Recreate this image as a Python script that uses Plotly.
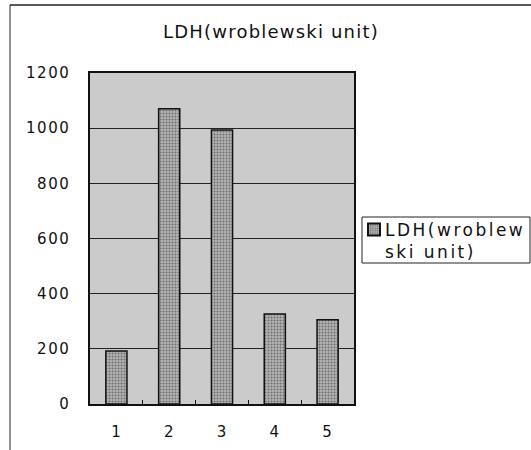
import plotly.graph_objects as go

categories = ["1", "2", "3", "4", "5"]
values = [192, 1070, 993, 326, 305]
series_name = "LDH(wroblew<br>ski unit)"
title_text = "LDH(wroblewski unit)"
y_ticks = [0, 200, 400, 600, 800, 1000, 1200]

W, H = 531, 450
L, R, T, B = 90, 177, 73, 46
pw, ph = W - L - R, H - T - B

def px_x(p):
    return (p - L) / pw

def px_y(p):
    return (H - B - p) / ph

fig = go.Figure()
fig.add_trace(go.Bar(
    x=categories, y=values, name=series_name,
    marker=dict(color="#a8a8a8", line=dict(color="#111111", width=1.5),
                pattern=dict(shape=".", fgcolor="#6e6e6e", bgcolor="#b4b4b4",
                             size=3, solidity=0.35, fillmode="replace")),
    width=0.4, showlegend=True,
))

font = "DejaVu Sans"
fig.update_layout(
    width=W, height=H,
    margin=dict(l=L, r=R, t=T, b=B, pad=0, autoexpand=False),
    paper_bgcolor="white",
    plot_bgcolor="#cbcbcb",
    font=dict(family=font, size=15, color="#111111"),
    title=dict(text=title_text, x=271 / W, xanchor="center",
               y=1 - 32 / H, yanchor="middle",
               font=dict(family=font, size=18, color="#111111")),
    xaxis=dict(type="category", showgrid=False, showline=True, linecolor="#111111",
               linewidth=1.5, mirror=True, ticks="inside", ticklen=4,
               tickcolor="#111111", tickson="boundaries", automargin=False,
               ticklabelstandoff=13, tickfont=dict(size=15)),
    yaxis=dict(range=[0, 1200], tickvals=y_ticks, showgrid=True,
               gridcolor="#222222", gridwidth=1, showline=True,
               linecolor="#111111", linewidth=1.5, mirror=True, automargin=False,
               ticks="", ticklabelstandoff=15, zeroline=False,
               tickfont=dict(size=15)),
    legend=dict(x=px_x(354), y=px_y(212), xanchor="left", yanchor="top",
                borderwidth=0, bgcolor="rgba(0,0,0,0)", valign="top",
                font=dict(family=font, size=17), itemsizing="constant",
                itemwidth=30),
    bargap=0.6,
    shapes=[
        dict(type="line", xref="paper", yref="paper",
             x0=px_x(10), x1=px_x(10), y0=px_y(5), y1=px_y(H),
             line=dict(color="#222222", width=1)),
        dict(type="line", xref="paper", yref="paper",
             x0=px_x(10), x1=px_x(W), y0=px_y(5), y1=px_y(5),
             line=dict(color="#222222", width=1.5)),
        dict(type="rect", xref="paper", yref="paper",
             x0=px_x(362), x1=px_x(530), y0=px_y(217), y1=px_y(263),
             line=dict(color="#222222", width=1), fillcolor="rgba(0,0,0,0)"),
    ],
)

post = """
var gd = document.getElementById('{plot_id}');
function fixSpacing(){
  gd.querySelectorAll('.gtitle').forEach(function(e){ e.style.letterSpacing = '1.2px'; });
  gd.querySelectorAll('.ytick text').forEach(function(e){ e.style.letterSpacing = '1.5px'; });
  gd.querySelectorAll('.xtick text').forEach(function(e){ e.style.letterSpacing = '1px'; });
  gd.querySelectorAll('.legend .scrollbox').forEach(function(e){ e.removeAttribute('clip-path'); });
  gd.querySelectorAll('.legendtext').forEach(function(e){
    e.style.letterSpacing = '2.5px';
    e.style.transform = 'translate(-9px, 0px)';
  });
}
fixSpacing();
gd.on('plotly_afterplot', fixSpacing);
"""

fig.write_html("out.html", post_script=post)
